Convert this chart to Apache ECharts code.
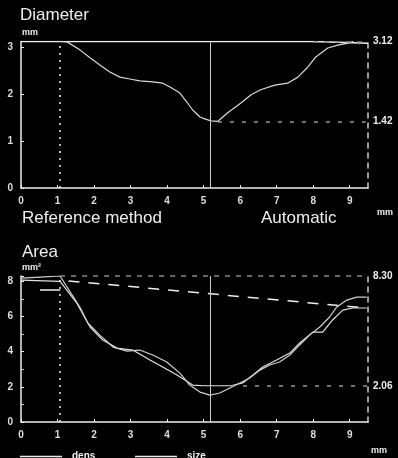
<!DOCTYPE html>
<html>
<head>
<meta charset="utf-8">
<script src="https://cdn.jsdelivr.net/npm/echarts@6/dist/echarts.min.js"></script>
<style>
  html, body { margin: 0; padding: 0; background: #000; }
  #chart { width: 398px; height: 458px; }
</style>
</head>
<body>
<div id="chart"></div>
<script>
// diameter curve (mm)
var diamX = [1.07, 1.26, 1.61, 1.89, 2.16, 2.43, 2.71, 2.98, 3.25, 3.61, 3.88, 4.08, 4.35, 4.54, 4.70, 4.90, 5.03, 5.20, 5.39, 5.66, 6.02, 6.29, 6.56, 6.95, 7.30, 7.58, 7.85, 8.07, 8.40, 8.67, 9.00, 9.10];
var diamY = [3.12, 3.11, 2.94, 2.77, 2.62, 2.47, 2.36, 2.32, 2.28, 2.26, 2.23, 2.15, 2.02, 1.83, 1.66, 1.51, 1.47, 1.43, 1.42, 1.60, 1.81, 1.98, 2.09, 2.19, 2.23, 2.36, 2.57, 2.79, 2.98, 3.04, 3.09, 3.12];
// reference diameter
var refDX = [0, 8.0, 8.0, 9.5];
var refDY = [3.12, 3.12, 3.08, 3.08];

// area curves (mm2)
var densX = [0, 1.07, 1.53, 1.89, 2.24, 2.63, 3.06, 3.53, 3.88, 4.27, 4.70, 5.00, 5.75, 6.07, 6.35, 6.62, 7.00, 7.36, 7.63, 7.99, 8.26, 8.53, 8.81, 9.08, 9.46];
var densY = [8.07, 8.00, 6.76, 5.40, 4.66, 4.20, 4.09, 3.52, 3.13, 2.67, 2.10, 2.06, 2.06, 2.22, 2.67, 3.13, 3.52, 3.92, 4.49, 5.11, 5.11, 5.80, 6.36, 6.48, 6.48];
var sizeX = [0, 0.52, 1.07, 1.61, 1.83, 2.16, 2.52, 2.90, 3.25, 3.61, 3.99, 4.35, 4.62, 4.90, 5.17, 5.44, 5.72, 5.99, 6.26, 6.54, 6.81, 7.08, 7.36, 7.63, 7.90, 8.18, 8.45, 8.64, 8.92, 9.19, 9.46];
var sizeY = [8.18, 8.24, 8.30, 6.53, 5.63, 4.94, 4.26, 4.03, 4.09, 3.81, 3.41, 2.78, 2.10, 1.70, 1.53, 1.65, 1.93, 2.22, 2.50, 2.95, 3.24, 3.41, 3.81, 4.38, 4.94, 5.40, 5.97, 6.53, 6.93, 7.10, 7.10];
// reference area
var refAX = [1.3, 9.45];
var refAY = [8.02, 6.48];
var refStartX = [0.52, 1.07];
var refStartY = [7.5, 7.5];

// markers
var refPos = 1.07, lesionPos = 5.17;
var diamMax = 3.12, diamMin = 1.42;
var areaMax = 8.30, areaMin = 2.06;
var legendNames = ['dens', 'size'];

var font = 'Liberation Sans';
var white = '#eeeeee';

function pairs(xs, ys) {
  return xs.map(function (x, i) { return [x, ys[i]]; });
}

function xAxisOpt(grid) {
  return {
    type: 'value', gridIndex: grid, min: 0, max: 9.5, interval: 1,
    axisLine: { lineStyle: { color: white, width: 1.5 } },
    axisTick: { inside: true, length: 3, lineStyle: { color: white } },
    axisLabel: { color: '#dddddd', fontSize: 10, fontWeight: 'bold', fontFamily: font, margin: 8, showMaxLabel: false },
    splitLine: { show: false }
  };
}

function yAxisOpt(grid, max, step, minor) {
  return {
    type: 'value', gridIndex: grid, min: 0, max: max, interval: step,
    axisLine: { show: true, lineStyle: { color: white, width: 1.5 } },
    axisTick: { show: true, inside: true, length: 3, lineStyle: { color: white } },
    minorTick: { show: minor, splitNumber: 2, length: 3, lineStyle: { color: '#cccccc' } },
    axisLabel: { color: '#dddddd', fontSize: 10, fontWeight: 'bold', fontFamily: font, margin: 8, showMaxLabel: false },
    splitLine: { show: false }
  };
}

function rightAxis(grid, max) {
  return {
    type: 'value', gridIndex: grid, min: 0, max: max, position: 'right',
    axisLine: { show: true, lineStyle: { color: '#cccccc', width: 1.5, type: [5, 5] } },
    axisTick: { show: false }, axisLabel: { show: false }, splitLine: { show: false }
  };
}

var endLabel = { show: true, position: 'end', color: white, fontSize: 10, fontWeight: 'bold', fontFamily: font, distance: 5 };

function guideLines(xStartTop, yTop, xStartLow, yLow) {
  return {
    symbol: 'none', silent: true, animation: false,
    data: [
      [{ coord: [refPos, 0], lineStyle: { type: [2, 5], color: white, width: 1.5 } }, { coord: [refPos, yTop] }],
      [{ coord: [lesionPos, 0], lineStyle: { type: 'solid', color: '#cccccc', width: 1 } }, { coord: [lesionPos, yTop] }],
      [{ coord: [xStartTop, yTop], lineStyle: { type: [5, 6], color: '#888888', width: 1.5 }, label: Object.assign({ formatter: yTop.toFixed(2) }, endLabel) }, { coord: [9.5, yTop] }],
      [{ coord: [xStartLow, yLow], lineStyle: { type: [4, 8], color: '#999999', width: 1.5 }, label: Object.assign({ formatter: yLow.toFixed(2) }, endLabel) }, { coord: [9.5, yLow] }]
    ]
  };
}

// hand-made legend (line sample + name) at the bottom edge
var legendItems = [];
legendNames.forEach(function (name, i) {
  var x0 = 20 + i * 115;
  legendItems.push({ type: 'line', shape: { x1: x0, y1: 456.5, x2: x0 + 42, y2: 456.5 }, style: { stroke: white, lineWidth: 1.5 } });
  legendItems.push({ type: 'text', left: x0 + 52, top: 451, style: { text: name, fill: white, font: 'bold 10px "Liberation Sans"' } });
});

var chart = echarts.init(document.getElementById('chart'));

var option = {
  backgroundColor: '#000000',
  animation: false,
  textStyle: { fontFamily: font },
  grid: [
    { left: 21, width: 347, top: 41.4, height: 146.6 },
    { left: 21, width: 347, top: 276, height: 146 }
  ],
  xAxis: [xAxisOpt(0), xAxisOpt(1)],
  yAxis: [yAxisOpt(0, diamMax, 1, false), rightAxis(0, diamMax), yAxisOpt(1, areaMax, 2, true), rightAxis(1, areaMax)],
  series: [
    {
      name: 'ref diameter', type: 'line', xAxisIndex: 0, yAxisIndex: 0,
      data: pairs(refDX, refDY), symbol: 'none',
      lineStyle: { color: white, width: 1.5 }
    },
    {
      name: 'diameter', type: 'line', xAxisIndex: 0, yAxisIndex: 0,
      data: pairs(diamX, diamY), symbol: 'none',
      lineStyle: { color: '#d8d8d8', width: 1.2 },
      markLine: guideLines(8.0, diamMax, 5.39, diamMin)
    },
    {
      name: 'ref area', type: 'line', xAxisIndex: 1, yAxisIndex: 2,
      data: pairs(refAX, refAY), symbol: 'none',
      lineStyle: { color: white, width: 1.5, type: [11, 9] }
    },
    {
      name: 'ref start', type: 'line', xAxisIndex: 1, yAxisIndex: 2,
      data: pairs(refStartX, refStartY), symbol: 'none',
      lineStyle: { color: white, width: 1.5 }
    },
    {
      name: 'dens', type: 'line', xAxisIndex: 1, yAxisIndex: 2,
      data: pairs(densX, densY), symbol: 'none',
      lineStyle: { color: '#e0e0e0', width: 1.2 },
      markLine: guideLines(refPos, areaMax, 5.75, areaMin)
    },
    {
      name: 'size', type: 'line', xAxisIndex: 1, yAxisIndex: 2,
      data: pairs(sizeX, sizeY), symbol: 'none',
      lineStyle: { color: '#cfcfcf', width: 1.2 }
    }
  ],
  graphic: [
    { type: 'text', left: 20, top: 7, style: { text: 'Diameter', fill: white, font: '17px "Liberation Sans"' } },
    { type: 'text', left: 22, top: 28, style: { text: 'mm', fill: white, font: 'bold 9px "Liberation Sans"' } },
    { type: 'text', left: 22, top: 210, style: { text: 'Reference method', fill: white, font: '17px "Liberation Sans"' } },
    { type: 'text', left: 261, top: 210, style: { text: 'Automatic', fill: white, font: '17px "Liberation Sans"' } },
    { type: 'text', left: 377, top: 208, style: { text: 'mm', fill: white, font: 'bold 9px "Liberation Sans"' } },
    { type: 'text', left: 22, top: 244, style: { text: 'Area', fill: white, font: '17px "Liberation Sans"' } },
    { type: 'text', left: 22, top: 263, style: { text: 'mm²', fill: white, font: 'bold 9px "Liberation Sans"' } },
    { type: 'text', left: 371, top: 446, style: { text: 'mm', fill: white, font: 'bold 9px "Liberation Sans"' } }
  ].concat(legendItems)
};

chart.setOption(option);
</script>
</body>
</html>
